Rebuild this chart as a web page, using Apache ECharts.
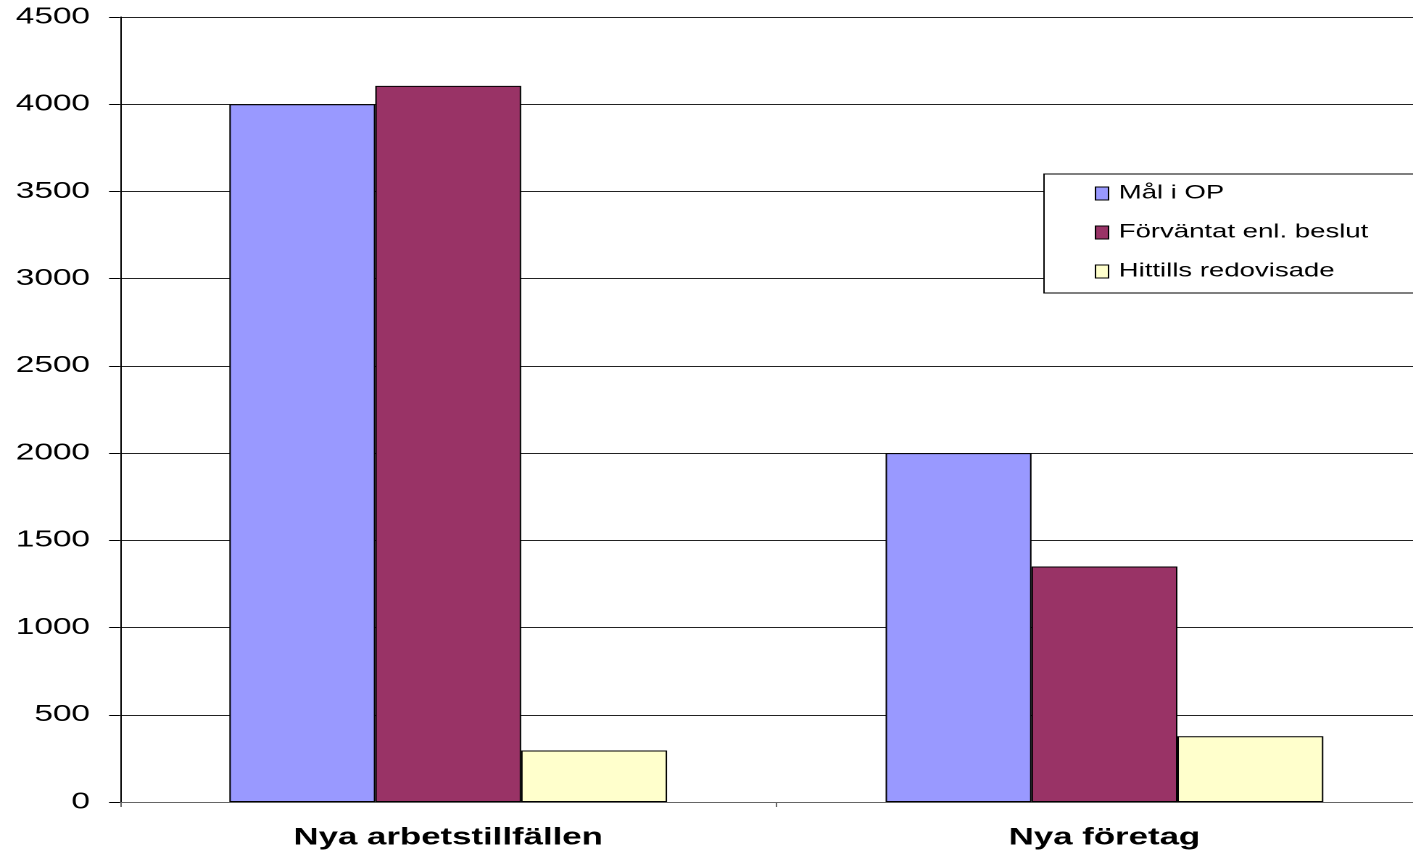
<!DOCTYPE html>
<html>
<head>
<meta charset="utf-8">
<script src="https://cdn.jsdelivr.net/npm/echarts@6/dist/echarts.min.js"></script>
<style>
html,body{margin:0;padding:0;background:#fff;overflow:hidden}
#wrap{width:1413px;height:850px;overflow:hidden;position:relative}
#c{width:988px;height:850px;transform:scaleX(1.45);transform-origin:0 0;position:absolute;left:0;top:0}
</style>
</head>
<body>
<div id="wrap"><div id="c"></div></div>
<script>
const categories = ['Nya arbetstillfällen', 'Nya företag'];
const seriesNames = ['Mål i OP', 'Förväntat enl. beslut', 'Hittills redovisade'];
const malIOP = [4000, 2000];
const forvantat = [4105, 1350];
const hittills = [295, 377];
const yTicks = [0, 500, 1000, 1500, 2000, 2500, 3000, 3500, 4000, 4500];
const colors = ['#9999FF', '#993366', '#FFFFCC'];

const chart = echarts.init(document.getElementById('c'), null, {renderer: 'canvas', devicePixelRatio: 2});
const font = 'Liberation Sans, Arial, sans-serif';
const values = [malIOP, forvantat, hittills];
chart.setOption({
  animation: false,
  backgroundColor: '#fff',
  grid: {left: 82.8, right: 0, top: 17, bottom: 47, containLabel: false},
  legend: {
    left: 720, top: 174,
    orient: 'vertical',
    padding: [10, 60, 12, 35],
    itemGap: 20,
    itemWidth: 9, itemHeight: 13,
    backgroundColor: '#fff',
    borderColor: '#000', borderWidth: 1,
    textStyle: {fontFamily: font, fontSize: 19, color: '#000', padding: [0, 0, 0, 2]},
    data: seriesNames.map((n, i) => ({name: n, icon: 'rect', itemStyle: {color: colors[i], borderColor: '#000', borderWidth: 1}}))
  },
  xAxis: {
    type: 'category',
    data: categories,
    axisLine: {lineStyle: {color: '#666', width: 1}},
    axisTick: {show: true, length: 5, lineStyle: {color: '#666'}},
    axisLabel: {fontFamily: font, fontSize: 24, fontWeight: 'bold', color: '#000', margin: 24}
  },
  yAxis: {
    type: 'value',
    min: yTicks[0], max: yTicks[yTicks.length - 1], interval: 500,
    axisLine: {show: true, lineStyle: {color: '#000', width: 1}},
    axisTick: {show: true, length: 7.6, lineStyle: {color: '#000'}},
    axisLabel: {fontFamily: font, fontSize: 23, color: '#000', margin: 20.7, formatter: v => String(v)},
    splitLine: {show: true, lineStyle: {color: '#222', width: 1}}
  },
  series: seriesNames.map((n, i) => ({
    name: n,
    type: 'bar',
    data: values[i],
    barGap: '0%',
    barCategoryGap: '33.3%',
    itemStyle: {color: colors[i], borderColor: '#000', borderWidth: 1}
  }))
});
</script>
</body>
</html>
